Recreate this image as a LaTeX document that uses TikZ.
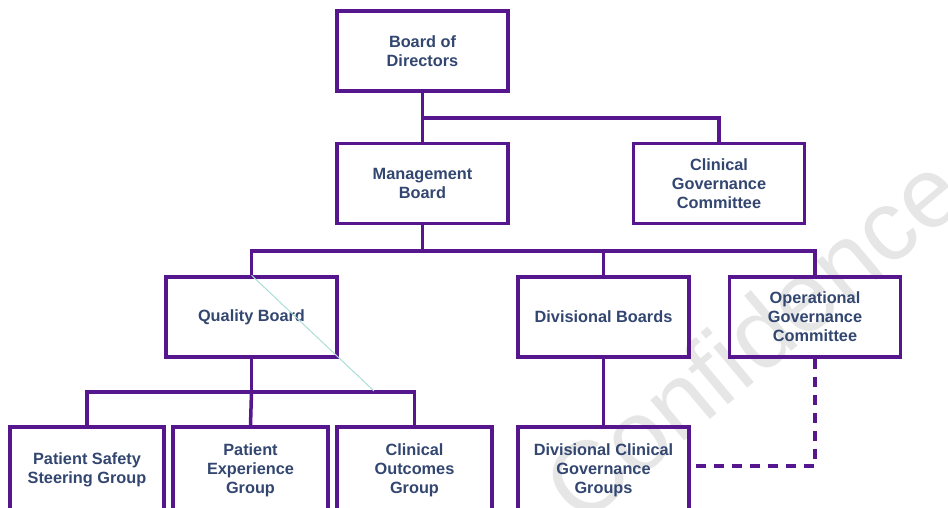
\documentclass[tikz,border=0pt]{standalone}
\usepackage{fontspec}
\setmainfont{Liberation Sans}
\definecolor{boxline}{RGB}{86,22,142}
\definecolor{boxtext}{RGB}{50,70,112}
\definecolor{wmark}{RGB}{200,200,200}
\definecolor{thinline}{RGB}{170,222,214}
\begin{document}
\begin{tikzpicture}[x=1pt,y=-1pt,
  orgbox/.style={draw=boxline, line width=3.5pt, fill=none, align=center,
    text=boxtext, font=\fontsize{16.3}{19}\selectfont\bfseries,
    minimum width=171pt, minimum height=80pt, inner sep=0pt},
  lowbox/.style={orgbox, minimum width=155pt, minimum height=86pt},
  link/.style={draw=boxline, line width=3.5pt},
  dlink/.style={link, dash pattern=on 10pt off 8pt}]
\useasboundingbox (0,0) rectangle (948,508);
\begin{scope}
\clip (0,0) rectangle (948,508);
% watermark
\node[text=wmark, opacity=0.45, rotate=40, font=\fontsize{100}{100}\selectfont] (wm) at (752,338) {Confidence};
% boxes
\node[orgbox] (bod) at (422.5,51) {Board of\\Directors};
\node[orgbox] (mb) at (422.5,183.5) {Management\\Board};
\node[orgbox] (cgc) at (719,183.5) {Clinical\\Governance\\Committee};
\node[orgbox] (qb) at (251.5,317) {Quality Board};
\node[orgbox] (db) at (603.5,317) {Divisional Boards};
\node[orgbox] (ogc) at (815,317) {Operational\\Governance\\Committee};
\node[lowbox, minimum width=154pt] (ps) at (87,470) {Patient Safety\\Steering Group};
\node[lowbox] (pe) at (250.5,470) {Patient\\Experience\\Group};
\node[lowbox] (co) at (414.5,470) {Clinical\\Outcomes\\Group};
\node[lowbox, minimum width=171pt] (dcgg) at (603.5,470) {Divisional Clinical\\Governance\\Groups};
% connectors
\coordinate (j1) at (422.5,118);
\coordinate (j2) at (422.5,251);
\coordinate (j3) at (251.5,392);
\draw[link] (bod.south) -- (mb.north);
\draw[link] (j1) -| (cgc.north);
\draw[link] (mb.south) -- (j2);
\draw[link] (qb.north) |- (j2) -| (ogc.north);
\draw[link] (j2) -| (db.north);
\draw[link] (qb.south) -- (j3);
\draw[link] (ps.north) |- (j3) -| (co.north);
\draw[link] (j3) -- (pe.north);
\draw[link] (db.south) -- (dcgg.north);
\draw[dlink] (ogc.south) |- (dcgg.east |- 0,466);
% thin diagonal stray line
\coordinate (t1) at (374,391);
\draw[thinline, line width=1pt] (qb.north) -- (t1);
\end{scope}
\end{tikzpicture}
\end{document}
